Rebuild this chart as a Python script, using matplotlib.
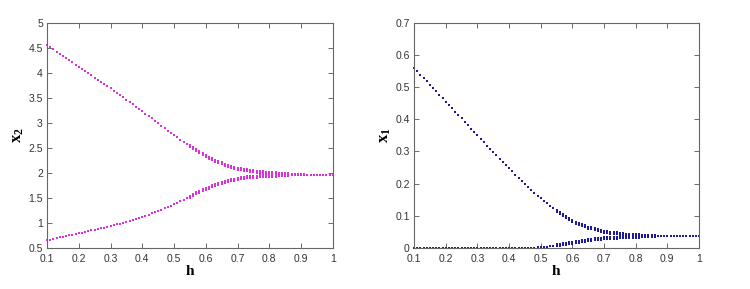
import numpy as np
import matplotlib
matplotlib.use("Agg")
import matplotlib.pyplot as plt

plt.rcParams['font.family'] = ['Liberation Sans', 'DejaVu Sans']
plt.rcParams['mathtext.fontset'] = 'custom'
plt.rcParams['mathtext.rm'] = 'Liberation Serif'
plt.rcParams['mathtext.bf'] = 'Liberation Serif:bold'
plt.rcParams['mathtext.it'] = 'Liberation Serif:italic'

# parameter grid h = 0.10 ... 1.00 (step 0.01)
h = np.round(np.linspace(0.10, 1.00, 91), 2)

# x2 branches (left panel)
x2_upper = [4.55, 4.51, 4.47, 4.42, 4.38, 4.34, 4.29, 4.25, 4.21, 4.16,
            4.12, 4.08, 4.03, 3.99, 3.95, 3.90, 3.86, 3.82, 3.77, 3.73,
            3.69, 3.64, 3.60, 3.55, 3.51, 3.46, 3.41, 3.37, 3.32, 3.28,
            3.23, 3.18, 3.14, 3.09, 3.04, 2.99, 2.94, 2.89, 2.84, 2.80,
            2.75, 2.71, 2.66, 2.62, 2.57, 2.53, 2.49, 2.45, 2.41, 2.37,
            2.33, 2.30, 2.27, 2.24, 2.21, 2.19, 2.16, 2.14, 2.12, 2.10,
            2.08, 2.07, 2.06, 2.05, 2.04, 2.03, 2.02, 2.015, 2.01, 2.005,
            2.00, 1.996, 1.992, 1.988, 1.984, 1.98, 1.978, 1.976, 1.974, 1.972,
            1.97, 1.969, 1.968, 1.967, 1.966, 1.965, 1.964, 1.963, 1.962, 1.961,
            1.96]
x2_lower = [0.65, 0.66, 0.68, 0.69, 0.71, 0.72, 0.73, 0.75, 0.76, 0.78,
            0.79, 0.80, 0.82, 0.83, 0.85, 0.86, 0.87, 0.89, 0.90, 0.92,
            0.93, 0.95, 0.97, 0.98, 1.00, 1.02, 1.04, 1.06, 1.08, 1.10,
            1.12, 1.14, 1.16, 1.19, 1.21, 1.24, 1.26, 1.29, 1.31, 1.34,
            1.37, 1.40, 1.43, 1.46, 1.49, 1.52, 1.55, 1.59, 1.62, 1.65,
            1.68, 1.70, 1.73, 1.75, 1.78, 1.80, 1.82, 1.83, 1.85, 1.86,
            1.88, 1.89, 1.90, 1.91, 1.915, 1.92, 1.925, 1.93, 1.934, 1.937,
            1.94, 1.943, 1.946, 1.949, 1.952, 1.955, 1.957, 1.958, 1.959, 1.96,
            1.96, 1.96, 1.96, 1.96, 1.96, 1.96, 1.96, 1.96, 1.96, 1.96,
            1.96]

# x1 branches (right panel)
x1_upper = [0.560, 0.550, 0.539, 0.529, 0.518, 0.508, 0.497, 0.487, 0.476, 0.466,
            0.455, 0.445, 0.434, 0.424, 0.413, 0.403, 0.392, 0.382, 0.371, 0.361,
            0.350, 0.339, 0.329, 0.318, 0.308, 0.298, 0.288, 0.278, 0.268, 0.258,
            0.248, 0.238, 0.228, 0.219, 0.209, 0.200, 0.191, 0.181, 0.172, 0.163,
            0.155, 0.147, 0.139, 0.131, 0.123, 0.115, 0.108, 0.101, 0.095, 0.089,
            0.083, 0.079, 0.075, 0.071, 0.067, 0.063, 0.061, 0.058, 0.056, 0.053,
            0.051, 0.049, 0.048, 0.046, 0.045, 0.043, 0.042, 0.041, 0.040, 0.0395,
            0.039, 0.0388, 0.0386, 0.0384, 0.0382, 0.038, 0.0378, 0.0376, 0.0374, 0.0372,
            0.037, 0.037, 0.037, 0.037, 0.037, 0.037, 0.037, 0.037, 0.037, 0.037,
            0.037]
x1_lower = [0.0, 0.0, 0.0, 0.0, 0.0, 0.0, 0.0, 0.0, 0.0, 0.0,
            0.0, 0.0, 0.0, 0.0, 0.0, 0.0, 0.0, 0.0, 0.0, 0.0,
            0.0, 0.0, 0.0, 0.0, 0.0, 0.0, 0.0, 0.0, 0.0, 0.0,
            0.0, 0.0, 0.0, 0.0, 0.0, 0.0003, 0.0005, 0.0008, 0.001, 0.0015,
            0.002, 0.003, 0.004, 0.005, 0.0065, 0.008, 0.0095, 0.011, 0.0125, 0.014,
            0.016, 0.0175, 0.019, 0.021, 0.0225, 0.024, 0.025, 0.0265, 0.0275, 0.029,
            0.030, 0.031, 0.0315, 0.032, 0.0325, 0.033, 0.0335, 0.034, 0.0345, 0.035,
            0.035, 0.0355, 0.036, 0.036, 0.0365, 0.0365, 0.037, 0.037, 0.037, 0.037,
            0.037, 0.037, 0.037, 0.037, 0.037, 0.037, 0.037, 0.037, 0.037, 0.037,
            0.037]

magenta = '#dd30dd'
blue = '#1a1a9a'

fig = plt.figure(figsize=(7.5, 2.89), dpi=100)
ax1 = fig.add_axes([0.0627, 0.142, 0.381, 0.779])
ax2 = fig.add_axes([0.552, 0.142, 0.380, 0.779])

# taller marker for the dense transition region
tall = [(-0.5, -1.2), (0.5, -1.2), (0.5, 1.2), (-0.5, 1.2), (-0.5, -1.2)]
thick = (h >= 0.55) & (h <= 0.86)


def draw(ax, ys, color):
    for y in ys:
        y = np.asarray(y)
        ax.plot(h[~thick], y[~thick], linestyle='none', marker='s',
                markersize=1.5, color=color, markeredgewidth=0, clip_on=False)
        ax.plot(h[thick], y[thick], linestyle='none', marker=tall,
                markersize=2.6, color=color, markeredgewidth=0, clip_on=False)


draw(ax1, [x2_upper, x2_lower], magenta)
draw(ax2, [x1_upper, x1_lower], blue)

xt = [0.1, 0.2, 0.3, 0.4, 0.5, 0.6, 0.7, 0.8, 0.9, 1]
xtl = ['0.1', '0.2', '0.3', '0.4', '0.5', '0.6', '0.7', '0.8', '0.9', '1']
yt1 = [0.5, 1, 1.5, 2, 2.5, 3, 3.5, 4, 4.5, 5]
yt1l = ['0.5', '1', '1.5', '2', '2.5', '3', '3.5', '4', '4.5', '5']
yt2 = [0, 0.1, 0.2, 0.3, 0.4, 0.5, 0.6, 0.7]
yt2l = ['0', '0.1', '0.2', '0.3', '0.4', '0.5', '0.6', '0.7']

for ax, yt, ytl, ylim, lab in [(ax1, yt1, yt1l, (0.5, 5), r'$\mathbf{x_2}$'),
                               (ax2, yt2, yt2l, (0, 0.7), r'$\mathbf{x_1}$')]:
    ax.set_xlim(0.1, 1)
    ax.set_ylim(*ylim)
    ax.set_xticks(xt)
    ax.set_xticklabels(xtl)
    ax.set_yticks(yt)
    ax.set_yticklabels(ytl)
    ax.tick_params(direction='in', top=True, right=True, length=3.5,
                   width=0.6, labelsize=7.5, colors='#555555',
                   labelcolor='#333333')
    ax.tick_params(axis='x', pad=4.5)
    ax.tick_params(axis='y', pad=3)
    for s in ax.spines.values():
        s.set_color('#666666')
        s.set_linewidth(0.8)
    ax.set_xlabel(r'$\mathbf{h}$', fontsize=11, labelpad=0)
    ax.set_ylabel(lab, fontsize=12, labelpad=2)

fig.savefig('out.png', dpi=100)
